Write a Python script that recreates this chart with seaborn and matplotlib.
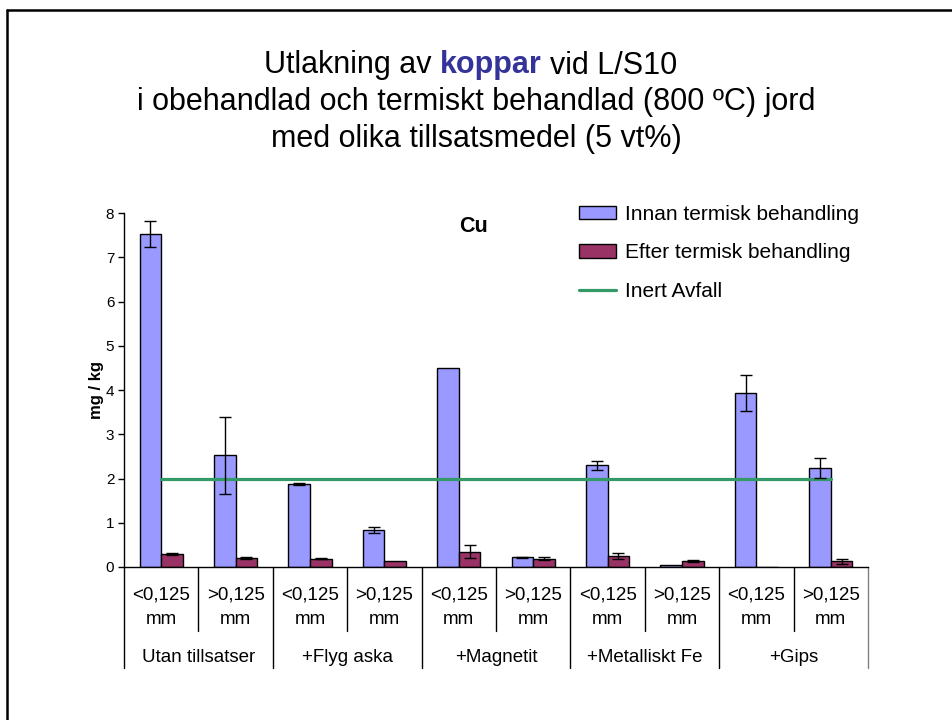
import numpy as np
import pandas as pd
import matplotlib
matplotlib.use("Agg")
import matplotlib.pyplot as plt
import matplotlib.lines as mlines
import seaborn as sns

# ---------------- data ----------------
groups = ["Utan tillsatser", "+Flyg aska", "+Magnetit", "+Metalliskt Fe", "+Gips"]
sizes = ["<0,125\nmm", ">0,125\nmm"]
series = ["Innan termisk behandling", "Efter termisk behandling"]
innan = [7.53, 2.52, 1.88, 0.835, 4.49, 0.22, 2.30, 0.04, 3.93, 2.24]
innan_err = [0.30, 0.88, 0.02, 0.06, 0.0, 0.01, 0.10, 0.0, 0.40, 0.22]
efter = [0.29, 0.195, 0.19, 0.14, 0.35, 0.19, 0.255, 0.135, 0.0, 0.13]
efter_err = [0.03, 0.02, 0.02, 0.0, 0.15, 0.03, 0.07, 0.02, 0.0, 0.06]
inert_limit = 2.0
title_lines = ["i obehandlad och termiskt behandlad (800 ºC) jord",
               "med olika tillsatsmedel (5 vt%)"]
yticks = [0, 1, 2, 3, 4, 5, 6, 7, 8]

cats = [f"{g}|{s}" for g in groups for s in sizes]
cat_labels = [s for g in groups for s in sizes]
df = pd.DataFrame({
    "cat": cats * 2,
    "serie": [series[0]] * len(cats) + [series[1]] * len(cats),
    "value": innan + efter,
})

# ---------------- style ----------------
sns.set_style("ticks")
plt.rcParams["font.family"] = ["Liberation Sans", "DejaVu Sans"]
for k in ["text.color", "axes.labelcolor", "xtick.color", "ytick.color",
          "axes.edgecolor"]:
    plt.rcParams[k] = "black"

W, H = 953, 720
fig = plt.figure(figsize=(W / 100, H / 100), dpi=100)
ax = fig.add_axes([124 / W, (H - 567) / H, 744 / W, 354 / H])

sns.barplot(data=df, x="cat", y="value", hue="serie", order=cats,
            hue_order=series, palette=["#9999FF", "#993366"],
            width=0.58, errorbar=None, edgecolor="black", linewidth=1,
            saturation=1, ax=ax, legend=True)

# error bars from the drawn bars
for cont, errs in zip(ax.containers, [innan_err, efter_err]):
    xs, ys, es = [], [], []
    for p, e in zip(cont.patches, errs):
        if e > 0:
            xs.append(p.get_x() + p.get_width() / 2)
            ys.append(p.get_height())
            es.append(e)
    ax.errorbar(xs, ys, yerr=es, fmt="none", ecolor="black",
                elinewidth=1, capsize=4, capthick=1, zorder=5)

# inert waste limit line
ax.plot(np.arange(len(cats)), [inert_limit] * len(cats), color="#339966",
        lw=2.3, label="Inert Avfall", zorder=4)

ax.set_xlim(-0.5, len(cats) - 0.5)
ax.set_ylim(0, 8)
ax.set_yticks(yticks)
ax.tick_params(axis="y", direction="out", length=4, width=1, labelsize=11,
               pad=3, color="black", labelcolor="black")
ax.set_xticks(range(len(cats)))
ax.set_xticklabels(cat_labels, fontsize=13.5, linespacing=1.6)
ax.tick_params(axis="x", length=0, pad=14, labelcolor="black")
ax.set_xlabel("")
ax.set_ylabel("mg / kg", fontsize=12, fontweight="bold")
ax.yaxis.set_label_coords(-0.0265, 0.5)
for s in ["top", "right"]:
    ax.spines[s].set_visible(False)
for s in ["left", "bottom"]:
    ax.spines[s].set_color("black")
    ax.spines[s].set_linewidth(1)

# multi-level category separators
trans = ax.get_xaxis_transform()
for i in range(len(groups)):
    ax.plot([2 * i + 0.5] * 2, [0, -0.181], transform=trans, color="black",
            lw=1, clip_on=False)
for b in range(len(groups) + 1):
    ax.plot([2 * b - 0.5] * 2, [0, -0.285], transform=trans,
            color="black" if b < len(groups) else "#808080",
            lw=1, clip_on=False)
for i, g in enumerate(groups):
    ax.text(2 * i + 0.5, -0.256, g, transform=trans, ha="center",
            va="center", fontsize=13.5)

ax.text(0.47, 0.962, "Cu", transform=ax.transAxes, ha="center",
        va="center", fontsize=15.5, fontweight="bold")

# legend
handles, labels = ax.get_legend_handles_labels()
leg = ax.legend(handles, labels, loc="upper left",
                bbox_to_anchor=(579 / W, 1 - 205 / H),
                bbox_transform=fig.transFigure, frameon=False, fontsize=15,
                handlelength=1.8, handleheight=0.6, handletextpad=0.4,
                labelspacing=0.93, borderpad=0, borderaxespad=0)

# title with mixed styling on the first line
renderer = fig.canvas.get_renderer()
tsize = 22
pieces = [("Utlakning av", "normal", "black"),
          ("koppar", "bold", "#333399"),
          ("vid L/S10", "normal", "black")]
def text_w(s, weight):
    t = fig.text(0, 0, s, fontsize=tsize, fontweight=weight)
    w = t.get_window_extent(renderer).width
    t.remove()
    return w
space_w = text_w("a a", "normal") - text_w("aa", "normal")
widths = [text_w(s, wt) for s, wt, c in pieces]
total = sum(widths) + space_w * (len(pieces) - 1)
x = 471 - total / 2
for (s, wt, c), w in zip(pieces, widths):
    fig.text(x / W, 1 - 73.5 / H, s, fontsize=tsize, fontweight=wt,
             color=c, ha="left", va="baseline")
    x += w + space_w
for line, yb in zip(title_lines, [110, 146.5]):
    fig.text(476 / W, 1 - yb / H, line, fontsize=tsize, ha="center",
             va="baseline", color="black")

# slide frame (top and left edges)
fig.add_artist(mlines.Line2D([7 / W, 1], [1 - 10 / H] * 2,
                             transform=fig.transFigure, color="black", lw=1.8))
fig.add_artist(mlines.Line2D([7 / W] * 2, [0, 1 - 10 / H],
                             transform=fig.transFigure, color="black", lw=1.8))

fig.savefig("out.png", dpi=100)
